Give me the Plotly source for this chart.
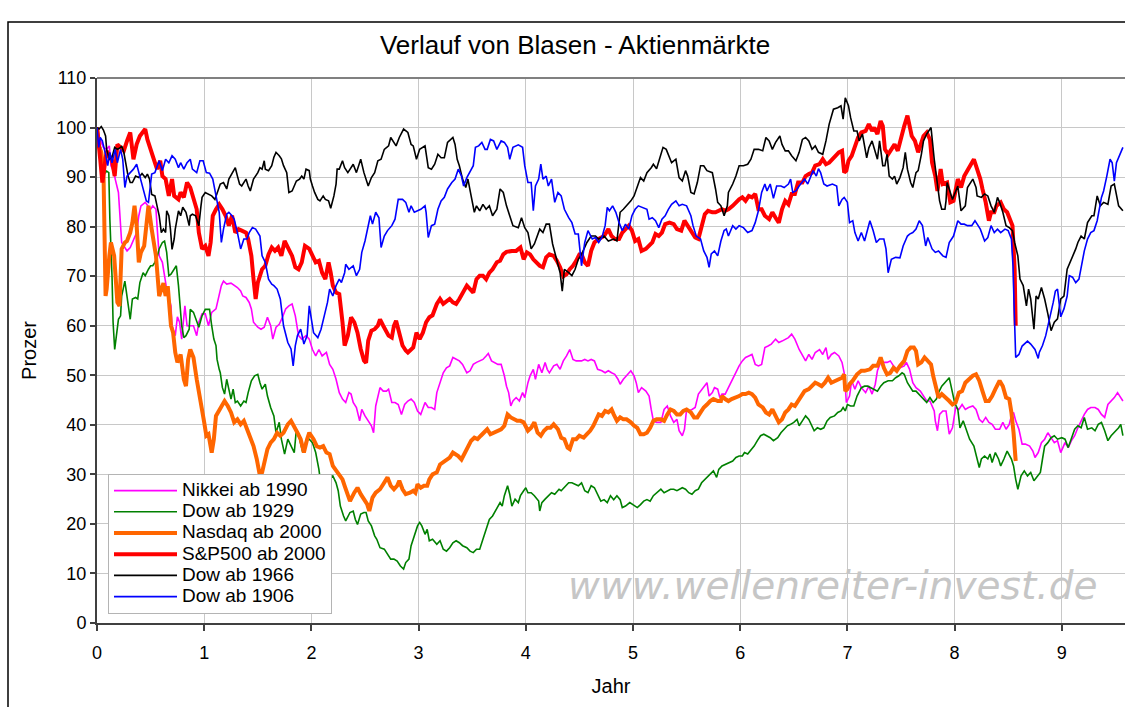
import plotly.graph_objects as go

# ---------------- data (Jahr, Prozent) ----------------
nikkei_x = [0,0.03,0.06,0.09,0.115,0.13,0.16,0.17,0.20,0.22,0.23,0.26,0.28,0.31,0.34,0.37,0.39,0.41,0.45,0.48,0.50,0.52,0.55,0.56,0.58,0.61,0.63,0.65,0.69,0.70,0.73,0.75,0.77,0.79,0.82,0.84,0.87,0.90,0.93,0.95,0.98,1.01,1.04,1.07,1.11,1.14,1.16,1.18,1.21,1.25,1.28,1.31,1.34,1.36,1.39,1.42,1.44,1.46,1.50,1.53,1.56,1.59,1.62,1.64,1.67,1.70,1.73,1.76,1.79,1.82,1.85,1.88,1.91,1.93,1.95,1.98,2.01,2.04,2.07,2.10,2.14,2.17,2.20,2.23,2.26,2.29,2.32,2.35,2.37,2.39,2.42,2.45,2.47,2.50,2.53,2.56,2.58,2.60,2.64,2.67,2.70,2.72,2.75,2.78,2.81,2.84,2.87,2.90,2.93,2.96,2.99,3.02,3.06,3.09,3.12,3.15,3.17,3.20,3.23,3.26,3.29,3.32,3.35,3.38,3.41,3.45,3.48,3.51,3.54,3.57,3.60,3.63,3.65,3.68,3.71,3.74,3.77,3.80,3.82,3.84,3.86,3.88,3.91,3.94,3.97,3.99,4.02,4.04,4.07,4.09,4.12,4.15,4.18,4.20,4.22,4.26,4.29,4.32,4.35,4.38,4.41,4.44,4.47,4.52,4.55,4.58,4.61,4.64,4.67,4.71,4.74,4.77,4.80,4.83,4.86,4.88,4.91,4.94,4.98,5.01,5.03,5.05,5.08,5.12,5.15,5.17,5.19,5.22,5.26,5.29,5.32,5.35,5.38,5.41,5.43,5.46,5.48,5.50,5.52,5.55,5.58,5.61,5.63,5.66,5.69,5.71,5.74,5.76,5.79,5.81,5.83,5.86,5.89,5.93,5.96,5.99,6.02,6.05,6.08,6.11,6.14,6.17,6.20,6.23,6.26,6.29,6.33,6.36,6.39,6.42,6.45,6.48,6.51,6.55,6.58,6.61,6.64,6.67,6.70,6.74,6.77,6.80,6.82,6.85,6.88,6.92,6.95,6.97,6.98,6.99,7.02,7.04,7.07,7.10,7.13,7.17,7.20,7.23,7.26,7.28,7.31,7.34,7.37,7.40,7.43,7.46,7.49,7.53,7.55,7.58,7.61,7.64,7.68,7.71,7.74,7.77,7.79,7.81,7.82,7.84,7.86,7.89,7.92,7.95,7.98,8.01,8.04,8.07,8.10,8.13,8.17,8.20,8.23,8.26,8.29,8.32,8.35,8.38,8.42,8.45,8.48,8.51,8.53,8.55,8.57,8.60,8.63,8.66,8.70,8.73,8.75,8.78,8.81,8.84,8.87,8.90,8.93,8.96,8.99,9.03,9.06,9.09,9.12,9.15,9.18,9.21,9.24,9.27,9.31,9.34,9.37,9.40,9.43,9.46,9.49,9.52,9.54,9.57]
nikkei_y = [100,97.5,96,95.6,96.3,92.3,90.9,89.6,86.9,80.2,76.8,75.8,75.1,75.8,77.5,78.8,82.2,84.2,84.9,83.9,83.5,84.2,83.5,80.2,74.1,72.8,70.1,67.4,64.0,60.0,58.0,61.8,60.7,57.3,64.0,60.0,60.0,60.0,58.0,60.7,62.4,62.4,60.0,62.7,63.4,66.0,68.1,69.0,68.4,68.6,68.1,67.7,67.0,66.0,65.7,64.7,63.4,60.7,59.7,59.3,59.7,61.7,60.0,57.3,59.7,60.3,61.7,63.4,64.0,64.4,62.0,58.0,57.3,57.6,58.0,57.3,55.2,53.9,55.2,53.9,54.6,52.2,51.2,49.2,46.5,45.2,44.5,46.5,46.2,44.5,43.5,40.8,43.1,41.8,40.8,39.8,38.4,43.8,47.5,46.8,46.8,47.2,44.5,44.5,44.1,42.1,44.1,44.8,45.2,44.5,42.8,42.1,44.5,43.5,43.5,43.1,46.5,48.5,50.5,51.5,51.9,53.6,53.2,52.9,52.2,50.5,50.9,52.2,52.6,52.9,53.2,53.9,54.4,52.9,52.6,52.2,52.2,49.9,47.8,46.5,43.8,44.8,45.5,44.8,46.5,45.5,48.5,49.9,51.2,49.2,52.2,50.5,52.6,51.2,50.5,51.9,52.2,51.2,52.9,53.9,55.2,53.2,52.9,52.9,53.2,52.9,53.2,52.9,51.2,50.9,50.5,50.9,50.5,50.2,49.2,48.2,49.2,49.9,50.9,49.9,48.5,46.5,47.5,46.8,45.8,43.1,40.8,40.5,40.5,43.1,43.8,41.8,40.5,41.1,38.8,37.8,39.1,43.1,42.8,43.1,43.5,46.2,46.8,47.5,48.5,45.8,46.5,47.5,47.2,45.5,46.2,46.2,47.5,49.5,50.5,51.9,52.9,53.6,53.9,54.2,52.2,51.9,52.2,55.6,55.9,56.3,57.3,56.6,56.9,57.3,57.6,58.3,57.3,55.2,53.9,52.9,54.2,53.2,54.6,55.2,54.2,55.6,53.2,54.2,54.6,53.9,52.6,50.5,47.8,44.5,45.8,48.9,47.2,48.9,47.5,46.5,47.8,46.2,48.2,50.9,52.6,52.6,52.6,52.9,51.9,51.2,51.5,51.9,52.6,51.2,48.5,47.5,46.8,45.8,44.8,44.8,43.8,42.8,40.8,38.8,42.1,42.8,42.8,38.1,39.4,43.5,43.1,44.1,43.1,43.5,43.8,43.1,41.1,40.5,41.5,40.5,40.1,39.1,39.1,40.5,39.1,40.1,41.8,42.5,40.8,39.1,36.1,36.1,35.7,34.7,33.4,34.4,36.4,37.1,38.4,37.4,36.4,36.8,34.4,36.4,35.4,36.8,37.8,39.4,40.8,42.1,43.1,43.5,43.5,43.1,42.1,41.5,44.1,44.8,45.5,46.5,45.8,44.8]

dow1929_x = [0,0.016,0.04,0.06,0.08,0.09,0.11,0.12,0.14,0.15,0.165,0.18,0.20,0.22,0.23,0.26,0.28,0.31,0.33,0.36,0.38,0.40,0.43,0.45,0.48,0.50,0.52,0.54,0.56,0.58,0.61,0.63,0.65,0.67,0.69,0.72,0.74,0.76,0.79,0.81,0.83,0.86,0.87,0.90,0.93,0.95,0.98,1.01,1.03,1.05,1.07,1.09,1.11,1.12,1.14,1.15,1.17,1.19,1.21,1.22,1.25,1.27,1.29,1.31,1.34,1.37,1.39,1.41,1.44,1.47,1.50,1.52,1.54,1.57,1.59,1.62,1.65,1.67,1.70,1.72,1.75,1.78,1.81,1.84,1.86,1.89,1.92,1.95,1.98,2.01,2.04,2.07,2.09,2.11,2.14,2.17,2.20,2.23,2.25,2.27,2.30,2.32,2.36,2.39,2.41,2.43,2.46,2.49,2.51,2.53,2.56,2.59,2.61,2.64,2.68,2.71,2.74,2.77,2.80,2.83,2.86,2.88,2.91,2.93,2.96,2.99,3.01,3.03,3.06,3.08,3.10,3.13,3.17,3.20,3.23,3.26,3.29,3.32,3.35,3.38,3.41,3.45,3.48,3.51,3.54,3.57,3.60,3.63,3.66,3.69,3.73,3.76,3.78,3.80,3.83,3.85,3.87,3.90,3.93,3.95,3.98,4.00,4.02,4.05,4.08,4.12,4.13,4.15,4.18,4.21,4.24,4.27,4.31,4.33,4.36,4.40,4.43,4.46,4.49,4.52,4.55,4.58,4.61,4.64,4.66,4.70,4.73,4.76,4.79,4.82,4.85,4.88,4.90,4.93,4.97,5.00,5.04,5.07,5.10,5.13,5.16,5.19,5.22,5.26,5.29,5.32,5.35,5.38,5.41,5.46,5.49,5.52,5.55,5.58,5.61,5.64,5.67,5.70,5.73,5.75,5.78,5.80,5.83,5.86,5.89,5.93,5.96,5.99,6.02,6.04,6.07,6.11,6.13,6.16,6.19,6.22,6.25,6.28,6.31,6.35,6.38,6.41,6.44,6.47,6.50,6.53,6.55,6.58,6.61,6.64,6.67,6.69,6.72,6.75,6.78,6.81,6.84,6.88,6.91,6.94,6.96,6.98,7.00,7.03,7.06,7.09,7.13,7.16,7.19,7.22,7.24,7.28,7.31,7.34,7.38,7.42,7.45,7.48,7.51,7.53,7.56,7.58,7.61,7.64,7.68,7.71,7.74,7.77,7.80,7.83,7.85,7.88,7.92,7.95,7.96,7.98,8.00,8.03,8.05,8.08,8.11,8.14,8.18,8.20,8.23,8.25,8.28,8.31,8.33,8.35,8.38,8.41,8.43,8.46,8.49,8.53,8.55,8.57,8.59,8.62,8.65,8.68,8.71,8.74,8.78,8.80,8.82,8.84,8.87,8.90,8.93,8.96,9.00,9.03,9.06,9.09,9.12,9.15,9.18,9.21,9.24,9.28,9.31,9.34,9.37,9.40,9.43,9.46,9.49,9.53,9.55,9.57]
dow1929_y = [100,97.3,95.6,91.6,90.9,91.2,90.9,81.5,70.1,60.7,55.2,58.0,61.3,62.0,66.0,69.0,66.0,61.3,65.4,65.7,65.4,68.7,70.7,70.1,71.4,72.1,72.1,72.8,73.8,75.5,76.8,77.1,74.8,70.1,70.4,71.4,72.1,68.1,60.0,57.6,58.0,59.3,63.3,62.7,60.7,59.7,62.0,63.3,63.3,63.3,60.0,57.3,56.0,53.2,51.2,50.5,47.5,46.2,49.2,48.2,45.2,47.2,44.5,44.8,43.8,44.8,44.5,46.5,48.9,49.9,50.2,48.5,47.2,48.2,45.8,43.5,41.8,38.4,40.5,37.1,34.1,37.1,35.7,34.4,39.1,37.1,34.4,36.8,37.1,36.4,34.4,31.0,27.7,28.3,27.7,29.0,29.7,28.3,26.7,23.6,21.6,20.6,22.3,22.6,20.9,19.9,22.0,22.3,22.3,20.6,19.6,17.6,16.9,15.2,14.9,13.9,12.9,12.9,12.5,11.5,10.9,12.2,12.9,15.6,17.6,19.6,20.3,19.6,17.9,18.9,16.6,16.9,15.9,16.6,14.9,14.5,15.2,16.2,16.6,16.2,15.6,15.2,14.5,14.2,14.9,14.9,16.9,18.9,20.9,21.6,23.0,24.3,23.6,25.7,27.7,26.0,23.6,25.0,24.3,25.7,26.7,27.3,26.3,26.3,25.7,24.6,22.6,24.3,25.0,25.7,26.3,26.0,27.0,26.7,27.3,28.3,28.3,28.0,27.7,28.3,26.7,26.3,27.7,27.3,26.3,24.6,24.9,24.3,25.7,24.9,25.7,24.9,23.3,23.6,24.3,23.9,23.3,23.9,24.6,24.9,24.6,25.7,26.3,27.0,26.3,26.7,27.0,27.0,26.7,27.3,27.0,26.3,26.0,26.7,27.0,28.3,29.0,29.7,30.4,30.7,29.4,31.0,31.7,32.0,32.4,32.7,33.4,33.7,33.7,34.4,34.1,35.1,35.7,36.8,37.8,38.1,37.8,37.4,36.8,37.4,38.4,39.1,39.8,40.1,40.5,41.1,39.8,40.8,41.8,41.1,39.8,38.8,39.4,39.1,39.4,40.8,41.5,41.8,42.5,42.8,43.5,42.8,44.1,43.8,43.8,45.8,47.5,47.8,47.8,47.5,47.2,46.8,47.8,48.5,48.9,48.9,49.5,49.9,50.5,50.2,48.5,47.8,46.8,46.8,45.8,45.2,44.5,45.5,44.5,45.2,46.5,47.8,48.9,49.5,48.5,46.5,44.5,43.1,39.4,40.8,39.1,37.1,35.7,34.1,31.4,33.1,33.7,33.1,34.1,32.4,34.4,33.1,31.7,33.1,34.7,33.1,31.7,29.0,27.0,29.7,30.7,29.7,30.4,28.7,29.7,30.4,33.1,35.7,36.4,37.4,37.8,37.1,37.4,37.1,35.4,37.1,39.1,39.8,39.4,41.5,39.1,39.4,38.8,40.1,40.5,38.8,36.8,37.8,38.4,39.4,40.1,37.8]

nasdaq_x = [0,0.016,0.04,0.06,0.08,0.09,0.115,0.13,0.16,0.19,0.21,0.23,0.26,0.28,0.31,0.33,0.35,0.37,0.39,0.41,0.44,0.46,0.48,0.51,0.53,0.55,0.58,0.60,0.62,0.64,0.66,0.69,0.71,0.73,0.75,0.78,0.81,0.83,0.85,0.87,0.90,0.93,0.95,0.98,1.00,1.02,1.04,1.07,1.09,1.11,1.14,1.16,1.19,1.22,1.25,1.28,1.31,1.34,1.37,1.40,1.43,1.46,1.49,1.52,1.54,1.56,1.59,1.62,1.65,1.68,1.71,1.74,1.78,1.81,1.84,1.87,1.90,1.93,1.96,1.98,2.02,2.05,2.08,2.11,2.14,2.17,2.20,2.23,2.26,2.29,2.31,2.34,2.36,2.40,2.43,2.46,2.49,2.52,2.54,2.57,2.60,2.64,2.67,2.71,2.74,2.77,2.80,2.82,2.85,2.88,2.92,2.95,2.97,2.99,3.02,3.05,3.08,3.10,3.13,3.17,3.20,3.23,3.26,3.29,3.32,3.35,3.37,3.40,3.43,3.45,3.49,3.52,3.55,3.58,3.61,3.64,3.67,3.70,3.74,3.77,3.80,3.82,3.83,3.86,3.89,3.92,3.95,3.98,4.02,4.05,4.08,4.11,4.14,4.17,4.20,4.23,4.26,4.30,4.33,4.36,4.39,4.41,4.44,4.47,4.50,4.54,4.57,4.60,4.63,4.66,4.68,4.71,4.74,4.77,4.80,4.82,4.85,4.88,4.91,4.94,4.98,5.01,5.04,5.07,5.10,5.13,5.16,5.19,5.22,5.26,5.29,5.32,5.35,5.38,5.41,5.44,5.47,5.50,5.54,5.57,5.60,5.63,5.66,5.69,5.72,5.75,5.79,5.82,5.83,5.86,5.89,5.92,5.96,5.99,6.02,6.05,6.08,6.11,6.14,6.17,6.21,6.24,6.27,6.30,6.33,6.36,6.39,6.42,6.45,6.48,6.51,6.54,6.57,6.60,6.64,6.67,6.70,6.73,6.76,6.79,6.82,6.85,6.88,6.92,6.95,6.97,6.98,7.00,7.02,7.05,7.09,7.13,7.16,7.19,7.21,7.24,7.28,7.31,7.34,7.37,7.40,7.43,7.46,7.49,7.53,7.56,7.59,7.62,7.64,7.66,7.69,7.72,7.75,7.78,7.80,7.83,7.85,7.88,7.92,7.95,7.98,8.01,8.04,8.07,8.10,8.13,8.17,8.20,8.23,8.26,8.29,8.32,8.35,8.38,8.42,8.45,8.48,8.51,8.53,8.55,8.57]
nasdaq_y = [100,96.3,95.0,91.6,66.0,67.4,74.1,76.8,74.1,64.7,64.0,75.5,76.8,77.1,78.8,80.8,84.2,80.2,72.8,74.8,76.1,80.8,84.2,79.5,76.1,74.1,66.0,67.4,68.6,66.0,68.0,60.0,58.6,54.6,52.6,54.2,49.2,47.8,53.2,55.2,53.6,49.2,46.8,43.8,40.5,37.8,38.1,34.4,37.1,41.8,42.8,43.5,44.8,43.8,42.5,40.5,41.1,40.1,40.8,39.1,37.4,35.7,33.1,29.7,30.4,32.4,35.1,36.4,37.1,38.4,37.8,38.4,40.1,40.8,39.4,38.4,37.1,34.4,37.1,38.4,37.1,35.7,35.4,35.7,34.4,34.1,31.7,30.7,29.7,29.0,27.7,25.7,24.6,26.3,27.3,26.0,25.0,24.0,22.6,25.3,26.3,27.0,28.0,29.4,27.7,27.0,27.7,28.7,27.0,26.0,26.3,26.7,26.3,28.0,27.3,27.7,27.7,29.0,30.0,30.4,32.0,32.4,33.0,33.4,34.4,34.1,33.7,33.0,34.4,35.4,36.8,37.4,37.1,37.8,38.4,39.1,38.1,38.4,38.8,39.1,39.8,41.1,42.1,41.5,41.1,40.8,40.8,40.5,38.8,39.4,40.5,38.4,37.8,38.8,39.4,39.4,40.1,39.1,37.4,37.1,35.4,35.1,37.1,37.1,37.8,37.4,38.1,38.8,39.8,41.5,42.1,41.8,42.8,42.5,43.1,42.1,40.8,41.5,41.1,41.1,40.5,39.8,39.4,38.1,38.1,38.4,39.4,40.8,41.1,41.1,40.8,42.1,43.1,42.8,42.1,42.1,42.8,43.1,42.5,41.5,41.5,42.5,43.5,44.1,44.8,45.2,44.8,44.8,45.8,45.2,44.8,45.2,45.5,45.8,46.2,46.2,46.5,46.2,45.5,44.1,43.5,42.5,42.1,43.1,41.8,40.5,41.1,42.5,43.1,44.1,43.8,44.8,45.8,46.8,47.2,47.8,48.5,48.2,47.8,48.5,49.5,48.5,48.9,49.2,49.5,50.2,46.8,47.2,48.2,48.9,50.2,50.9,50.9,51.2,51.2,51.9,51.9,53.6,51.5,50.2,50.5,51.5,50.9,51.9,52.9,54.9,55.6,55.6,54.9,52.2,52.6,53.6,52.9,52.2,49.9,47.2,45.5,46.2,45.5,44.8,44.1,44.5,46.5,46.8,48.5,49.2,49.9,50.2,48.9,46.8,44.8,44.8,45.8,47.2,48.9,47.8,45.5,45.2,42.5,38.4,32.7]

sp500_x = [0,0.016,0.03,0.05,0.07,0.09,0.115,0.14,0.165,0.19,0.22,0.25,0.28,0.31,0.34,0.37,0.40,0.45,0.47,0.50,0.53,0.56,0.59,0.61,0.64,0.67,0.70,0.72,0.76,0.78,0.81,0.84,0.87,0.90,0.93,0.95,0.98,1.01,1.04,1.06,1.08,1.11,1.14,1.17,1.20,1.23,1.26,1.29,1.32,1.35,1.39,1.41,1.44,1.46,1.48,1.50,1.54,1.57,1.60,1.63,1.66,1.69,1.72,1.75,1.79,1.82,1.85,1.88,1.91,1.94,1.98,2.01,2.04,2.07,2.10,2.13,2.16,2.18,2.20,2.23,2.26,2.29,2.31,2.34,2.37,2.40,2.43,2.46,2.49,2.51,2.53,2.56,2.59,2.62,2.64,2.67,2.70,2.72,2.75,2.77,2.79,2.82,2.85,2.88,2.90,2.92,2.95,2.98,3.01,3.04,3.07,3.10,3.13,3.17,3.20,3.23,3.26,3.29,3.32,3.35,3.38,3.41,3.45,3.48,3.51,3.54,3.57,3.60,3.63,3.66,3.69,3.73,3.76,3.79,3.82,3.87,3.91,3.95,3.98,4.01,4.04,4.07,4.10,4.13,4.16,4.19,4.22,4.26,4.29,4.32,4.35,4.38,4.41,4.44,4.47,4.50,4.52,4.55,4.58,4.61,4.64,4.68,4.73,4.77,4.80,4.83,4.87,4.90,4.93,4.96,4.99,5.02,5.05,5.08,5.12,5.15,5.18,5.21,5.24,5.27,5.30,5.34,5.38,5.41,5.45,5.48,5.51,5.54,5.58,5.61,5.64,5.67,5.70,5.74,5.77,5.80,5.83,5.86,5.89,5.93,5.96,5.99,6.02,6.05,6.08,6.11,6.14,6.17,6.20,6.23,6.27,6.30,6.33,6.36,6.39,6.42,6.45,6.48,6.51,6.54,6.58,6.61,6.64,6.67,6.70,6.74,6.77,6.80,6.83,6.86,6.89,6.92,6.95,6.97,6.99,7.01,7.04,7.07,7.10,7.13,7.17,7.20,7.23,7.25,7.28,7.31,7.33,7.35,7.38,7.41,7.44,7.47,7.50,7.53,7.56,7.58,7.60,7.63,7.66,7.68,7.71,7.74,7.77,7.79,7.82,7.84,7.87,7.89,7.93,7.96,7.99,8.03,8.06,8.09,8.13,8.15,8.18,8.21,8.24,8.26,8.29,8.32,8.34,8.37,8.39,8.43,8.46,8.49,8.52,8.54,8.56,8.57]
sp500_y = [100,95.6,93.6,88.9,91.6,95.3,94.3,93.3,90.2,96.6,96.0,95.3,97.3,99.0,93.6,96.6,98.3,99.7,97.6,95.6,93.9,91.6,93.3,90.2,89.6,86.2,89.6,86.2,85.5,86.9,85.9,88.9,87.9,85.5,83.5,78.8,75.5,76.1,74.1,76.8,82.2,83.5,84.5,83.5,82.2,80.2,82.2,78.8,79.5,79.2,78.8,77.5,74.1,69.4,65.4,68.7,71.4,72.1,74.4,75.8,75.1,75.8,74.1,77.1,75.1,74.1,71.8,71.4,72.8,76.1,75.5,74.1,72.8,73.1,70.7,69.4,72.8,70.7,68.1,66.7,66.4,60.7,56.0,58.0,61.7,60.7,58.6,55.3,53.0,52.5,57.0,59.0,59.3,60.0,61.3,60.0,58.6,58.0,57.6,60.0,61.0,58.3,56.0,55.0,54.6,55.0,55.6,58.6,57.3,58.6,60.7,61.7,62.1,64.4,65.4,64.4,65.0,65.4,64.7,64.4,65.4,66.7,68.1,67.4,66.7,69.4,70.1,70.1,69.4,70.7,71.4,72.8,73.1,74.4,74.9,75.1,75.1,75.8,73.4,74.8,74.4,73.4,72.8,72.1,71.8,73.8,74.4,74.1,73.1,71.8,70.0,70.4,71.4,72.1,73.1,74.4,74.4,72.8,72.1,75.1,76.8,77.5,78.1,79.5,78.1,77.5,77.5,78.8,79.5,80.2,79.2,77.1,77.5,75.1,75.5,76.1,76.8,78.5,78.1,78.8,80.5,80.8,80.5,79.5,79.2,81.2,80.2,79.5,77.8,77.5,80.2,82.5,83.2,82.9,82.9,83.2,83.5,83.2,83.5,84.2,84.9,85.5,85.9,85.2,86.2,85.9,86.6,83.5,83.5,82.2,81.5,82.9,81.8,80.8,83.5,85.2,84.5,86.6,86.6,88.9,88.9,90.2,90.6,90.9,92.3,92.6,93.6,92.6,92.9,93.6,94.3,95.0,95.3,90.9,91.3,93.3,94.3,96.0,98.0,99.0,99.3,100.7,99.3,100.0,98.7,101.3,100.3,95.6,94.6,95.6,96.6,95.3,98.0,100.3,102.4,100.0,98.3,97.3,95.0,96.3,98.3,99.0,97.6,92.9,90.2,87.2,91.6,88.6,88.9,84.9,85.2,89.6,87.9,90.2,91.9,92.6,93.6,91.6,89.6,87.6,84.9,81.2,82.9,82.9,84.2,84.9,83.5,82.9,81.2,80.2,71.4,60.0]

dow1966_x = [0,0.02,0.04,0.06,0.08,0.09,0.115,0.14,0.165,0.19,0.22,0.23,0.25,0.27,0.29,0.31,0.33,0.36,0.39,0.42,0.45,0.47,0.49,0.51,0.54,0.56,0.58,0.60,0.62,0.64,0.65,0.67,0.685,0.70,0.72,0.73,0.76,0.78,0.80,0.83,0.86,0.87,0.89,0.92,0.95,0.97,0.98,1.01,1.04,1.07,1.10,1.12,1.15,1.18,1.21,1.23,1.26,1.29,1.31,1.33,1.35,1.37,1.39,1.41,1.43,1.46,1.50,1.52,1.54,1.56,1.57,1.60,1.63,1.65,1.67,1.70,1.72,1.74,1.77,1.79,1.82,1.84,1.86,1.89,1.91,1.93,1.95,1.98,1.99,2.01,2.03,2.06,2.08,2.11,2.13,2.16,2.18,2.21,2.23,2.24,2.26,2.29,2.31,2.34,2.39,2.42,2.46,2.49,2.53,2.56,2.59,2.62,2.65,2.68,2.72,2.74,2.79,2.82,2.86,2.90,2.93,2.95,2.98,3.01,3.06,3.09,3.12,3.15,3.18,3.21,3.24,3.27,3.32,3.34,3.36,3.38,3.41,3.44,3.46,3.49,3.52,3.54,3.57,3.60,3.63,3.66,3.69,3.73,3.76,3.79,3.82,3.85,3.88,3.93,3.96,3.99,4.02,4.05,4.08,4.13,4.16,4.19,4.22,4.25,4.29,4.32,4.34,4.36,4.40,4.43,4.46,4.49,4.52,4.57,4.61,4.65,4.68,4.73,4.77,4.82,4.85,4.88,4.91,4.94,4.98,5.01,5.04,5.07,5.10,5.13,5.17,5.19,5.22,5.26,5.28,5.31,5.33,5.36,5.40,5.43,5.46,5.49,5.51,5.54,5.57,5.60,5.63,5.66,5.69,5.74,5.77,5.79,5.82,5.85,5.88,5.89,5.93,5.96,5.99,6.03,6.07,6.10,6.13,6.17,6.21,6.24,6.27,6.30,6.33,6.37,6.39,6.42,6.45,6.48,6.52,6.55,6.58,6.61,6.64,6.67,6.70,6.73,6.77,6.80,6.83,6.87,6.91,6.94,6.96,6.98,7.01,7.03,7.06,7.09,7.11,7.14,7.18,7.20,7.23,7.26,7.28,7.30,7.33,7.35,7.37,7.39,7.42,7.44,7.46,7.49,7.52,7.54,7.56,7.59,7.61,7.64,7.66,7.69,7.71,7.74,7.76,7.78,7.81,7.83,7.86,7.88,7.91,7.92,7.93,7.96,7.98,8.03,8.06,8.10,8.12,8.17,8.20,8.21,8.25,8.28,8.31,8.34,8.37,8.40,8.42,8.45,8.48,8.51,8.54,8.56,8.59,8.61,8.64,8.67,8.69,8.71,8.74,8.76,8.78,8.81,8.84,8.87,8.90,8.93,8.96,8.99,9.02,9.05,9.09,9.13,9.15,9.18,9.21,9.24,9.28,9.30,9.33,9.36,9.39,9.43,9.46,9.49,9.53,9.56,9.57]
dow1966_y = [100,99.7,100.2,99.5,98.3,95.6,93.6,94.0,96.0,95.6,96.0,96.3,95.0,92.3,90.2,88.9,88.9,90.2,89.9,90.7,89.9,90.6,89.6,86.5,86.2,84.2,82.2,78.8,79.5,78.8,83.2,82.2,79.5,75.4,77.5,79.5,83.2,82.2,83.9,82.9,80.2,82.2,82.5,82.2,80.2,84.2,85.9,86.9,86.6,86.2,85.5,86.6,88.6,88.9,87.6,89.6,90.9,91.9,90.2,88.6,88.2,88.9,89.6,88.2,87.2,89.6,90.9,91.9,91.6,93.3,91.6,91.3,92.3,94.0,95.0,94.3,93.7,92.3,90.9,86.9,87.2,88.2,89.2,89.6,90.2,89.6,91.6,91.3,89.6,88.2,86.9,85.5,85.2,86.2,85.5,85.2,83.7,86.2,88.6,91.6,91.6,93.3,91.9,90.9,92.6,90.9,93.6,90.9,88.2,89.9,90.9,93.3,93.6,95.6,96.3,98.0,96.3,98.0,99.7,99.0,96.6,96.3,93.6,95.6,96.3,91.9,91.6,92.6,94.6,93.9,93.9,97.0,98.0,96.6,93.6,92.3,89.6,87.9,89.6,86.2,82.9,84.2,83.2,84.5,83.5,84.2,82.2,83.5,87.6,86.9,84.2,82.2,80.2,79.8,81.8,79.8,78.8,75.5,76.5,79.5,78.8,80.5,80.5,76.5,73.4,70.7,67.0,71.4,70.7,70.1,71.4,73.4,74.4,76.8,78.1,78.1,77.5,78.1,77.1,77.5,77.1,82.9,83.5,84.2,85.2,86.2,87.9,89.9,89.2,90.9,91.9,92.6,91.7,94.6,96.0,95.6,94.6,92.9,93.6,89.9,89.2,91.3,90.2,86.9,86.6,88.9,92.3,92.3,91.3,90.9,87.6,84.9,84.2,82.2,84.2,86.9,88.6,90.2,92.3,92.3,92.6,93.6,95.6,95.6,95.3,98.0,97.3,95.6,97.0,98.3,96.6,95.3,95.3,94.3,93.3,95.0,97.6,98.0,97.3,95.6,96.3,95.0,94.6,97.3,100.7,103.7,104.0,104.4,101.7,106.0,104.4,102.0,99.3,99.3,97.3,98.7,93.9,95.9,97.3,95.3,93.6,97.3,92.3,92.3,94.6,90.2,89.6,90.2,88.6,89.9,91.9,95.0,91.6,88.9,87.9,90.9,91.3,94.6,97.3,98.7,99.3,100.0,93.6,90.2,85.2,83.5,83.5,85.2,88.9,86.9,85.5,88.2,83.2,84.2,87.9,89.6,87.9,86.2,85.9,86.6,86.2,84.2,82.9,85.9,84.9,82.9,80.2,79.8,79.2,76.8,74.1,69.4,68.1,64.0,67.4,65.4,59.3,66.0,65.4,67.7,65.4,62.4,59.0,60.7,61.4,65.4,66.0,71.4,73.4,75.5,76.8,78.1,77.5,80.8,82.2,82.2,86.2,84.2,84.9,84.5,88.2,88.6,84.2,83.5,83.2]

dow1906_x = [0,0.016,0.03,0.05,0.08,0.10,0.12,0.14,0.17,0.19,0.22,0.24,0.26,0.28,0.31,0.34,0.37,0.40,0.44,0.46,0.48,0.51,0.54,0.58,0.61,0.64,0.67,0.70,0.73,0.76,0.78,0.81,0.84,0.87,0.89,0.93,0.96,0.99,1.02,1.05,1.08,1.11,1.14,1.16,1.18,1.21,1.23,1.26,1.28,1.31,1.34,1.37,1.40,1.42,1.45,1.48,1.52,1.54,1.57,1.60,1.63,1.65,1.68,1.71,1.74,1.78,1.81,1.83,1.85,1.87,1.90,1.93,1.96,1.98,2.02,2.06,2.09,2.12,2.15,2.17,2.20,2.23,2.26,2.28,2.31,2.32,2.35,2.39,2.42,2.45,2.47,2.50,2.53,2.55,2.57,2.60,2.63,2.65,2.68,2.71,2.75,2.78,2.81,2.85,2.88,2.91,2.93,2.96,2.99,3.02,3.06,3.07,3.09,3.12,3.15,3.18,3.21,3.24,3.27,3.31,3.34,3.37,3.40,3.42,3.45,3.49,3.51,3.53,3.56,3.59,3.62,3.64,3.67,3.70,3.73,3.77,3.80,3.83,3.85,3.88,3.93,3.97,3.99,4.02,4.05,4.07,4.09,4.12,4.14,4.16,4.19,4.21,4.24,4.27,4.30,4.33,4.36,4.40,4.43,4.46,4.49,4.52,4.55,4.58,4.62,4.65,4.68,4.71,4.74,4.76,4.78,4.81,4.84,4.87,4.90,4.93,4.96,4.99,5.02,5.05,5.09,5.13,5.15,5.18,5.21,5.24,5.27,5.30,5.33,5.36,5.40,5.43,5.46,5.50,5.54,5.56,5.59,5.63,5.66,5.69,5.71,5.73,5.76,5.79,5.82,5.85,5.87,5.89,5.93,5.96,5.99,6.03,6.07,6.11,6.14,6.17,6.20,6.23,6.25,6.28,6.31,6.34,6.38,6.41,6.45,6.47,6.49,6.52,6.55,6.60,6.63,6.65,6.68,6.71,6.73,6.75,6.78,6.81,6.86,6.90,6.92,6.95,6.97,7.00,7.02,7.05,7.07,7.10,7.13,7.16,7.19,7.21,7.24,7.27,7.30,7.34,7.36,7.38,7.41,7.45,7.49,7.52,7.56,7.58,7.61,7.64,7.67,7.70,7.73,7.75,7.79,7.82,7.85,7.89,7.92,7.95,7.99,8.03,8.06,8.09,8.12,8.16,8.19,8.22,8.24,8.28,8.31,8.34,8.37,8.40,8.43,8.47,8.50,8.53,8.545,8.555,8.56,8.57,8.60,8.63,8.68,8.71,8.75,8.78,8.79,8.82,8.85,8.88,8.92,8.94,8.96,8.99,9.02,9.05,9.07,9.10,9.13,9.16,9.18,9.21,9.24,9.27,9.30,9.33,9.37,9.39,9.42,9.45,9.47,9.49,9.51,9.54,9.57]
dow1906_y = [100,96.0,98.0,97.3,94.6,92.3,95.0,92.9,95.6,92.9,95.6,93.6,87.9,90.2,90.9,91.6,92.6,90.2,87.2,85.2,84.9,90.6,90.9,93.3,91.3,93.6,92.9,94.3,93.6,91.9,92.9,91.6,92.9,93.6,91.6,90.9,93.3,93.3,90.9,90.8,89.6,86.2,82.9,76.8,79.5,82.5,82.9,82.2,81.5,78.8,75.5,77.5,77.5,78.8,79.8,79.5,78.1,74.1,72.8,69.4,68.4,68.1,67.4,65.4,60.0,56.6,55.3,51.9,56.0,58.0,59.3,56.3,58.0,64.0,58.6,57.6,59.3,62.0,64.7,67.4,66.0,68.1,69.4,68.7,70.7,72.4,71.4,72.1,70.1,71.4,74.8,77.1,80.2,82.2,80.5,82.9,81.8,75.8,78.1,79.2,80.2,81.5,85.5,85.5,84.9,82.9,84.2,82.9,83.2,83.5,84.2,82.9,77.8,80.2,80.5,83.5,85.2,85.9,87.6,88.9,89.6,91.6,90.2,88.2,89.9,91.6,92.3,96.0,96.3,97.0,95.6,95.6,97.6,97.3,95.6,97.3,97.0,96.0,93.6,96.0,96.5,96.0,92.3,88.9,88.9,83.2,88.2,89.6,92.6,89.6,90.2,88.2,89.6,84.9,86.9,86.2,83.5,81.8,80.8,78.5,78.5,72.1,76.8,79.2,77.5,77.8,76.8,77.8,80.2,83.9,83.2,84.2,82.9,80.8,79.2,80.5,79.5,82.2,83.5,84.2,83.9,83.5,81.5,81.8,81.2,79.8,81.5,82.2,83.5,84.5,85.2,84.2,84.5,84.2,82.2,80.2,78.1,77.5,75.1,73.8,71.8,74.5,75.1,74.1,77.1,79.2,79.5,78.1,80.2,79.5,80.2,79.8,78.8,79.2,80.8,83.2,86.9,88.6,87.2,88.6,85.7,88.2,88.2,87.9,88.6,89.6,86.9,87.2,88.2,89.6,88.6,89.6,91.3,90.2,91.7,90.9,88.6,88.2,88.6,88.2,84.2,85.5,85.9,84.9,80.8,81.2,78.8,77.1,78.8,77.1,79.8,81.2,79.2,76.8,77.5,77.5,75.5,70.7,73.4,73.8,73.7,76.1,78.1,78.5,78.8,79.5,81.2,80.2,76.1,77.8,75.5,74.8,75.1,74.1,73.8,76.8,78.1,81.2,80.5,80.5,80.2,80.2,81.2,80.2,79.5,77.1,77.8,80.2,78.8,79.5,78.8,79.5,79.2,77.5,72.0,64.0,59.3,53.6,54.2,55.9,56.9,56.3,55.2,53.4,54.6,56.0,58.0,60.7,64.7,67.0,67.4,61.8,63.4,66.0,70.1,69.8,68.7,69.4,71.8,75.1,77.5,78.8,79.2,81.2,85.9,87.2,90.2,93.6,92.9,89.2,92.9,94.6,96.0]

series_names = ["Nikkei ab 1990", "Dow ab 1929", "Nasdaq ab 2000", "S&P500 ab 2000", "Dow ab 1966", "Dow ab 1906"]
series_x = [nikkei_x, dow1929_x, nasdaq_x, sp500_x, dow1966_x, dow1906_x]
series_y = [nikkei_y, dow1929_y, nasdaq_y, sp500_y, dow1966_y, dow1906_y]
series_colors = ["#FF00FF", "#008000", "#FF6600", "#FF0000", "#000000", "#0000FF"]
series_widths = [1.6, 1.6, 4, 4, 1.6, 1.6]

x_ticks = list(range(0, 10))
y_ticks = list(range(0, 111, 10))

FONT = "Liberation Sans, Arial, sans-serif"

fig = go.Figure()
for name, xs, ys, col, w in zip(series_names, series_x, series_y, series_colors, series_widths):
    fig.add_trace(go.Scatter(x=xs, y=ys, name='<span style="font-size:19px">' + name + '</span>',
                             mode="lines", line=dict(color=col, width=w)))

W, H = 1125, 707
L, R, T, B = 97, 0, 78, 84
pw, ph = W - L - R, H - T - B

fig.update_layout(
    width=W, height=H,
    margin=dict(l=L, r=R, t=T, b=B, autoexpand=False),
    paper_bgcolor="white", plot_bgcolor="white",
    font=dict(family=FONT, size=18, color="black"),
    title=dict(text="Verlauf von Blasen - Aktienmärkte", x=575 / W, xref="container", xanchor="center",
               y=1 - 45 / H, yref="container", yanchor="middle",
               font=dict(family=FONT, size=26, color="black")),
    showlegend=True,
    legend=dict(x=11 / pw, y=(623 - 614) / ph, xanchor="left", yanchor="bottom",
                bgcolor="white", bordercolor="#B4B4B4", borderwidth=1,
                font=dict(family=FONT, size=14, color="black"),
                tracegroupgap=0, itemwidth=63),
    xaxis=dict(range=[0, (W - L) / 107.2], tickmode="array", tickvals=x_ticks,
               ticktext=[str(v) for v in x_ticks],
               showgrid=True, gridcolor="#C8C8C8", gridwidth=1,
               showline=True, linecolor="#404040", linewidth=2,
               ticks="outside", ticklen=6, tickcolor="#404040", tickwidth=1.5,
               ticklabelstandoff=6,
               tickfont=dict(family=FONT, size=18, color="black"),
               zeroline=False,
               title=dict(text="Jahr", standoff=17, font=dict(family=FONT, size=20, color="black"))),
    yaxis=dict(range=[0, 110], tickmode="array", tickvals=y_ticks,
               ticktext=[str(v) for v in y_ticks],
               showgrid=True, gridcolor="#C8C8C8", gridwidth=1,
               showline=True, linecolor="#404040", linewidth=2,
               ticks="outside", ticklen=5, tickcolor="#404040", tickwidth=1.5,
               tickfont=dict(family=FONT, size=18, color="black"),
               zeroline=False,
               title=dict(text="Prozer", standoff=14, font=dict(family=FONT, size=20, color="black"))),
    shapes=[
        # outer chart frame
        dict(type="rect", xref="paper", yref="paper",
             x0=(8 - L) / pw, x1=1.05, y0=-0.5, y1=(623 - 22) / ph,
             line=dict(color="black", width=1.5), fillcolor="rgba(0,0,0,0)", layer="above"),
        # top border of plot area
        dict(type="line", xref="paper", yref="paper", x0=0, x1=1, y0=1, y1=1,
             line=dict(color="#808080", width=2)),
    ],
    annotations=[
        dict(text="www.wellenreiter-invest.de", xref="paper", yref="paper",
             x=(832 - L) / pw, y=(623 - 585) / ph, xanchor="center", yanchor="middle",
             showarrow=False,
             font=dict(family="DejaVu Sans, Verdana, sans-serif", size=39, color="#C6C6C6", style="italic")),
    ],
)

fig.write_html("out.html", config={"displayModeBar": False},
               post_script="document.body.style.margin='0px';document.body.style.overflow='hidden';")
